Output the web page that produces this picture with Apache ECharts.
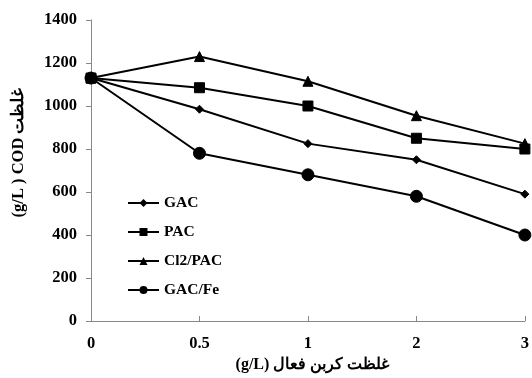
<!DOCTYPE html>
<html>
<head>
<meta charset="utf-8">
<script src="https://cdn.jsdelivr.net/npm/echarts@6/dist/echarts.min.js"></script>
<style>html,body{margin:0;padding:0;background:#fff;}#c{width:532px;height:378px;}</style>
</head>
<body>
<div id="c"></div>
<script>
var categories = ['0', '0.5', '1', '2', '3'];
var gac = [1130, 985, 825, 750, 590];
var pac = [1130, 1085, 1000, 850, 800];
var cl2pac = [1130, 1230, 1115, 955, 825];
var gacFe = [1130, 780, 680, 580, 400];
var seriesNames = ['GAC', 'PAC', 'Cl2/PAC', 'GAC/Fe'];
var xName = '(g/L) غلظت کربن فعال';
var yName = '(g/L ) COD غلظت';

var serif = '"Liberation Serif", "Times New Roman", serif';
var chart = echarts.init(document.getElementById('c'), null, {renderer: 'canvas'});
function mk(name, data, symbol, size) {
  return {
    name: name, type: 'line', data: data, symbol: symbol, symbolSize: size,
    showAllSymbol: true,
    lineStyle: {color: '#000', width: 2},
    itemStyle: {color: '#000', borderColor: '#000'},
    emphasis: {disabled: true}, animation: false
  };
}
chart.setOption({
  animation: false,
  backgroundColor: '#fff',
  grid: {left: 91, right: 6, top: 20, bottom: 57, containLabel: false},
  legend: {
    orient: 'vertical', left: 122, top: 190, itemWidth: 31, itemHeight: 10, itemGap: 13,
    data: seriesNames,
    textStyle: {fontFamily: serif, fontWeight: 'bold', fontSize: 15.5, color: '#000'}
  },
  xAxis: {
    type: 'category', data: categories, boundaryGap: false,
    name: xName, nameLocation: 'middle', nameGap: 31,
    nameTextStyle: {fontFamily: serif, fontWeight: 'bold', fontSize: 16, color: '#000', padding: [0, 0, 0, 9]},
    axisLine: {lineStyle: {color: '#888', width: 1}},
    axisTick: {inside: true, length: 5, alignWithLabel: true, lineStyle: {color: '#888'}},
    axisLabel: {fontFamily: serif, fontWeight: 'bold', fontSize: 16.5, color: '#000', margin: 14, showMaxLabel: true, showMinLabel: true},
    splitLine: {show: false}
  },
  yAxis: {
    type: 'value', min: 0, max: 1400, interval: 200,
    name: yName, nameLocation: 'middle', nameGap: 64, nameRotate: 90,
    nameTextStyle: {fontFamily: serif, fontWeight: 'bold', fontSize: 16.5, color: '#000', padding: [0, 0, 0, 36]},
    axisLine: {show: true, lineStyle: {color: '#888', width: 1}},
    axisTick: {show: true, inside: false, length: 5, lineStyle: {color: '#888'}},
    axisLabel: {fontFamily: serif, fontWeight: 'bold', fontSize: 16.5, color: '#000', margin: 14,
      formatter: function (v) { return String(v); }},
    splitLine: {show: false}
  },
  series: [
    mk(seriesNames[0], gac, 'diamond', 8),
    mk(seriesNames[1], pac, 'rect', 10),
    mk(seriesNames[2], cl2pac, 'triangle', 10),
    mk(seriesNames[3], gacFe, 'circle', 12)
  ]
});
</script>
</body>
</html>
